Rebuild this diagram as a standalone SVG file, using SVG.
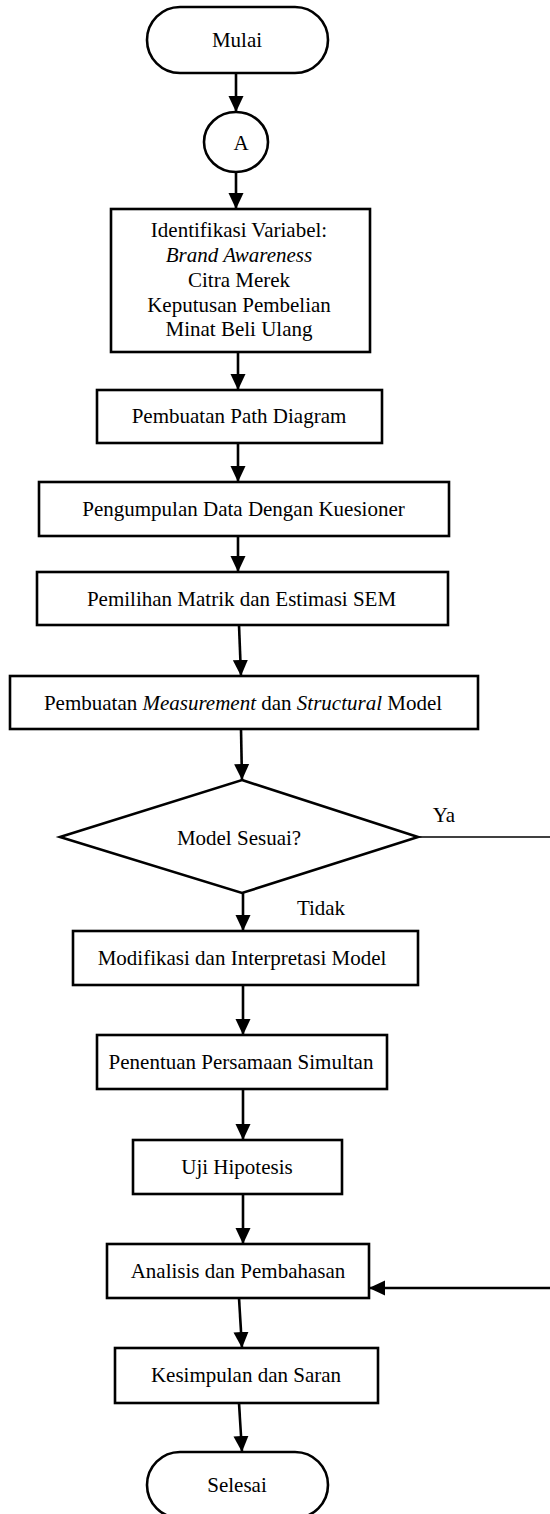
<svg xmlns="http://www.w3.org/2000/svg" width="550" height="1514" viewBox="0 0 550 1514">
<style>
.s{fill:#fff;stroke:#000;stroke-width:2.6}
.t{font-family:"Liberation Serif","Times New Roman",serif;font-size:21px;fill:#000;text-anchor:middle}
.c{fill:none;stroke:#000;stroke-width:2.6}
.thin{fill:none;stroke:#000;stroke-width:1.7}
</style>
<defs>
<marker id="ah" markerWidth="16" markerHeight="17" viewBox="0 0 17 16" refX="17" refY="8" orient="auto" markerUnits="userSpaceOnUse">
<path d="M0,0 L17,8 L0,16 Z" fill="#000"/>
</marker>
</defs>
<rect width="550" height="1514" fill="#fff"/>
<g id="connectors">
<line class="c" x1="236" y1="73" x2="236" y2="112" marker-end="url(#ah)"/>
<line class="c" x1="236" y1="172" x2="236" y2="209" marker-end="url(#ah)"/>
<line class="c" x1="238" y1="352" x2="238" y2="390" marker-end="url(#ah)"/>
<line class="c" x1="238" y1="443" x2="238" y2="482" marker-end="url(#ah)"/>
<line class="c" x1="238" y1="536" x2="238" y2="572" marker-end="url(#ah)"/>
<line class="c" x1="239" y1="625" x2="241" y2="676" marker-end="url(#ah)"/>
<line class="c" x1="241" y1="729" x2="242" y2="780" marker-end="url(#ah)"/>
<line class="c" x1="243" y1="893" x2="243" y2="931" marker-end="url(#ah)"/>
<line class="c" x1="243" y1="985" x2="243" y2="1035" marker-end="url(#ah)"/>
<line class="c" x1="243" y1="1089" x2="243" y2="1140" marker-end="url(#ah)"/>
<line class="c" x1="243" y1="1194" x2="243" y2="1244" marker-end="url(#ah)"/>
<line class="c" x1="239" y1="1298" x2="242" y2="1348" marker-end="url(#ah)"/>
<line class="c" x1="239" y1="1403" x2="242" y2="1452" marker-end="url(#ah)"/>
<path class="thin" d="M418,837 H553"/>
<path class="c" d="M553,837 V1288 H369" marker-end="url(#ah)"/>
<text class="t" x="444" y="822">Ya</text>
<text class="t" x="321" y="915">Tidak</text>
</g>
<g id="mulai">
<rect class="s" x="147" y="7" width="181" height="66" rx="33" ry="33"/>
<text class="t" x="237" y="47">Mulai</text>
</g>
<g id="a">
<ellipse class="s" cx="236" cy="142" rx="32" ry="30"/>
<text class="t" x="241" y="150">A</text>
</g>
<g id="identifikasi">
<rect class="s" x="111" y="209" width="259" height="143"/>
<text class="t" x="239" y="237">Identifikasi Variabel:</text>
<text class="t" x="239" y="262" font-style="italic">Brand Awareness</text>
<text class="t" x="239" y="287">Citra Merek</text>
<text class="t" x="239" y="311.5">Keputusan Pembelian</text>
<text class="t" x="239" y="336">Minat Beli Ulang</text>
</g>
<g id="path-diagram">
<rect class="s" x="97" y="390" width="285" height="53"/>
<text class="t" x="239" y="423">Pembuatan Path Diagram</text>
</g>
<g id="pengumpulan">
<rect class="s" x="39" y="482" width="410" height="54"/>
<text class="t" x="243.5" y="516">Pengumpulan Data Dengan Kuesioner</text>
</g>
<g id="pemilihan">
<rect class="s" x="37" y="572" width="411" height="53"/>
<text class="t" x="241.5" y="606">Pemilihan Matrik dan Estimasi SEM</text>
</g>
<g id="measurement">
<rect class="s" x="10" y="676" width="468" height="53"/>
<text class="t" x="243" y="710">Pembuatan <tspan font-style="italic">Measurement</tspan> dan <tspan font-style="italic">Structural</tspan> Model</text>
</g>
<g id="model-sesuai">
<polygon class="s" points="242,780 418,837 242,893 60,837"/>
<text class="t" x="239" y="845">Model Sesuai?</text>
</g>
<g id="modifikasi">
<rect class="s" x="73" y="931" width="345" height="54"/>
<text class="t" x="242" y="965">Modifikasi dan Interpretasi Model</text>
</g>
<g id="penentuan">
<rect class="s" x="97" y="1035" width="290" height="54"/>
<text class="t" x="241" y="1069">Penentuan Persamaan Simultan</text>
</g>
<g id="uji">
<rect class="s" x="133" y="1140" width="209" height="54"/>
<text class="t" x="237" y="1174">Uji Hipotesis</text>
</g>
<g id="analisis">
<rect class="s" x="107" y="1244" width="262" height="54"/>
<text class="t" x="238" y="1278">Analisis dan Pembahasan</text>
</g>
<g id="kesimpulan">
<rect class="s" x="115" y="1348" width="263" height="55"/>
<text class="t" x="246" y="1382">Kesimpulan dan Saran</text>
</g>
<g id="selesai">
<rect class="s" x="147" y="1452" width="181" height="66" rx="33" ry="33"/>
<text class="t" x="237" y="1492">Selesai</text>
</g>
</svg>
